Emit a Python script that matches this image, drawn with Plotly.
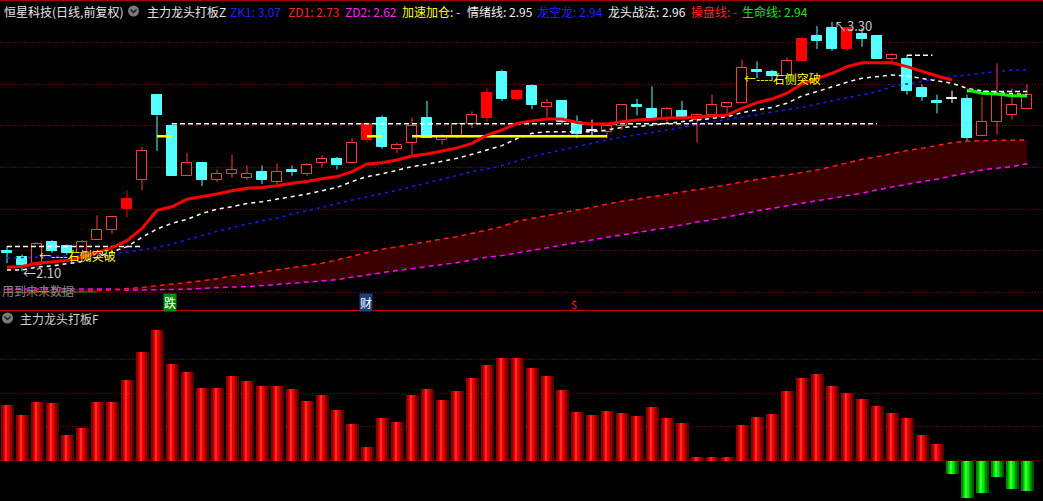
import plotly.graph_objects as go

W, H = 1043, 501

# ---------------- data ----------------
opens = [2.20, 2.17, 2.13, 2.24, 2.22, 2.19, 2.25, 2.30, 2.40, 2.54,
         2.95, 2.80, 2.56, 2.62, 2.54, 2.57, 2.55, 2.58, 2.53, 2.59,
         2.57, 2.62, 2.64, 2.62, 2.73, 2.84, 2.69, 2.72, 2.84, 2.73,
         2.75, 2.81, 2.84, 3.06, 2.93, 2.99, 2.89, 2.92, 2.82, 2.78,
         2.77, 2.80, 2.90, 2.88, 2.84, 2.87, 2.83, 2.85, 2.89, 2.91,
         3.07, 3.06, 3.04, 3.11, 3.23, 3.27, 3.17, 3.24, 3.23, 3.12,
         3.12, 2.98, 2.92, 2.93, 2.93, 2.75, 2.82, 2.85, 2.88]
closes = [2.19, 2.13, 2.23, 2.20, 2.19, 2.24, 2.30, 2.36, 2.45, 2.68,
          2.85, 2.56, 2.62, 2.54, 2.57, 2.59, 2.57, 2.54, 2.58, 2.58,
          2.61, 2.64, 2.61, 2.72, 2.81, 2.70, 2.71, 2.80, 2.74, 2.75,
          2.81, 2.85, 2.96, 2.93, 2.97, 2.90, 2.91, 2.82, 2.76, 2.78,
          2.80, 2.90, 2.89, 2.83, 2.88, 2.84, 2.85, 2.90, 2.91, 3.08,
          3.06, 3.04, 3.11, 3.22, 3.21, 3.17, 3.27, 3.22, 3.12, 3.14,
          2.97, 2.94, 2.91, 2.93, 2.74, 2.82, 2.95, 2.90, 2.95]
highs = [2.22, 2.18, 2.24, 2.25, 2.23, 2.25, 2.37, 2.36, 2.49, 2.70,
         2.95, 2.81, 2.67, 2.62, 2.59, 2.66, 2.61, 2.61, 2.62, 2.61,
         2.62, 2.66, 2.65, 2.74, 2.81, 2.85, 2.72, 2.84, 2.92, 2.76,
         2.81, 2.87, 2.98, 3.07, 2.97, 3.00, 2.93, 2.92, 2.85, 2.83,
         2.80, 2.90, 2.93, 2.99, 2.89, 2.92, 2.86, 2.95, 2.91, 3.12,
         3.11, 3.07, 3.13, 3.23, 3.28, 3.30, 3.27, 3.27, 3.23, 3.15,
         3.14, 3.00, 2.95, 2.97, 2.95, 2.94, 3.10, 2.98, 3.00]
lows = [2.14, 2.10, 2.12, 2.19, 2.18, 2.18, 2.25, 2.28, 2.36, 2.49,
        2.68, 2.56, 2.56, 2.51, 2.53, 2.55, 2.54, 2.52, 2.52, 2.56,
        2.56, 2.60, 2.59, 2.62, 2.72, 2.69, 2.67, 2.66, 2.74, 2.71,
        2.74, 2.79, 2.82, 2.92, 2.92, 2.88, 2.84, 2.81, 2.74, 2.75,
        2.74, 2.78, 2.85, 2.83, 2.81, 2.84, 2.72, 2.85, 2.86, 2.91,
        3.03, 3.02, 3.03, 3.11, 3.17, 3.16, 3.16, 3.18, 3.12, 3.10,
        2.95, 2.92, 2.86, 2.91, 2.73, 2.75, 2.76, 2.83, 2.88]
signal_days = [8, 24, 32, 34, 53, 56]

caopan = [2.120, 2.123, 2.139, 2.144, 2.152, 2.168, 2.192, 2.214, 2.248, 2.307,
          2.394, 2.411, 2.447, 2.459, 2.472, 2.488, 2.500, 2.504, 2.512, 2.524,
          2.532, 2.546, 2.556, 2.580, 2.617, 2.623, 2.636, 2.655, 2.665, 2.679,
          2.694, 2.716, 2.756, 2.780, 2.812, 2.824, 2.833, 2.833, 2.816, 2.809,
          2.809, 2.820, 2.828, 2.832, 2.838, 2.838, 2.841, 2.848, 2.852, 2.884,
          2.912, 2.929, 2.957, 3.002, 3.029, 3.053, 3.085, 3.104, 3.104, 3.104,
          3.085, 3.061, 3.040, 3.021, None, None, None, None, None]
shengming = [None] * 64 + [2.973, 2.957, 2.953, 2.945, 2.944]
qingxu = [2.107, 2.107, 2.121, 2.126, 2.137, 2.147, 2.168, 2.192, 2.219, 2.264,
          2.304, 2.331, 2.350, 2.379, 2.399, 2.411, 2.427, 2.435, 2.447, 2.459,
          2.472, 2.488, 2.504, 2.532, 2.556, 2.569, 2.585, 2.604, 2.615, 2.628,
          2.644, 2.663, 2.684, 2.705, 2.739, 2.764, 2.772, 2.772, 2.772, 2.772,
          2.780, 2.793, 2.796, 2.804, 2.809, 2.820, 2.825, 2.833, 2.844, 2.864,
          2.876, 2.889, 2.909, 2.944, 2.965, 2.989, 3.010, 3.029, 3.037, 3.045,
          3.040, 3.029, 3.016, 3.005, 2.981, 2.968, 2.960, 2.955, 2.950]
zk1 = [2.164, 2.166, 2.168, 2.171, 2.174, 2.179, 2.182, 2.187, 2.192, 2.203,
       2.214, 2.232, 2.251, 2.272, 2.293, 2.310, 2.326, 2.344, 2.355, 2.376,
       2.391, 2.407, 2.426, 2.443, 2.458, 2.474, 2.490, 2.508, 2.524, 2.543,
       2.561, 2.580, 2.593, 2.609, 2.631, 2.652, 2.668, 2.684, 2.703, 2.716,
       2.732, 2.745, 2.756, 2.769, 2.780, 2.793, 2.804, 2.820, 2.832, 2.844,
       2.856, 2.868, 2.880, 2.889, 2.905, 2.921, 2.936, 2.949, 2.965, 2.989,
       3.002, 3.013, 3.026, 3.037, 3.045, 3.053, 3.061, 3.069, 3.070]
zd1 = [2.000, 2.000, 2.001, 2.002, 2.003, 2.004, 2.006, 2.010, 2.017, 2.022,
       2.031, 2.038, 2.046, 2.055, 2.065, 2.078, 2.086, 2.095, 2.107, 2.118,
       2.128, 2.139, 2.155, 2.174, 2.190, 2.206, 2.217, 2.230, 2.243, 2.254,
       2.267, 2.283, 2.299, 2.315, 2.341, 2.355, 2.370, 2.383, 2.395, 2.408,
       2.424, 2.437, 2.448, 2.459, 2.472, 2.482, 2.492, 2.503, 2.516, 2.530,
       2.543, 2.554, 2.564, 2.575, 2.588, 2.604, 2.623, 2.639, 2.652, 2.668,
       2.681, 2.692, 2.705, 2.719, 2.727, 2.730, 2.730, 2.731, 2.732]
zd2 = [2.015, 2.015, 2.015, 2.015, 2.015, 2.015, 2.015, 2.015, 2.009, 2.010,
       2.010, 2.012, 2.014, 2.018, 2.022, 2.025, 2.026, 2.031, 2.038, 2.043,
       2.049, 2.054, 2.060, 2.070, 2.083, 2.094, 2.105, 2.113, 2.123, 2.132,
       2.142, 2.155, 2.168, 2.176, 2.188, 2.203, 2.214, 2.227, 2.238, 2.251,
       2.264, 2.275, 2.286, 2.299, 2.310, 2.323, 2.338, 2.347, 2.363, 2.376,
       2.391, 2.403, 2.416, 2.427, 2.439, 2.451, 2.464, 2.476, 2.492, 2.504,
       2.519, 2.532, 2.543, 2.559, 2.572, 2.588, 2.596, 2.604, 2.618]

# horizontal levels: (start day, end day, price)
white_levels = [(0, 9, 2.22), (11, 58, 2.81), (60, 61.7, 3.14), (64, 68, 2.965)]
yellow_levels = [(10, 11, 2.75), (24, 25, 2.75), (27, 40, 2.75)]
breakout_marks = [(2, 2.174), (49, 3.03)]
high_mark = (55, 3.30)
low_mark = (1, 2.10)

f_values = [16.5, 13.5, 17.4, 17.1, 7.6, 9.7, 17.4, 17.4, 23.9, 32.2,
            38.7, 28.7, 26.3, 21.5, 21.5, 25.1, 23.6, 22.1, 22.1, 21.2,
            17.7, 19.5, 15.0, 10.9, 4.1, 12.6, 11.5, 19.5, 21.2, 18.0,
            20.7, 24.5, 28.4, 30.4, 30.4, 27.4, 25.0, 20.8, 14.3, 13.4,
            14.6, 14.0, 13.1, 15.8, 12.5, 11.1, 1.0, 1.0, 1.0, 10.5,
            12.8, 13.7, 20.6, 24.4, 25.6, 22.0, 20.0, 18.2, 16.1, 14.0,
            12.5, 7.5, 4.8, -4.1, -11.2, -9.7, -4.9, -8.5, -9.1]

header_items = [("ZK1: 3.07", "#2323ff", 228), ("ZD1: 2.73", "#ff2020", 286),
                ("ZD2: 2.62", "#ff20ff", 343), ("加速加仓: -", "#ffff00", 400),
                ("情绪线: 2.95", "#f0f0f0", 465), ("龙空龙: 2.94", "#2323ff", 535),
                ("龙头战法: 2.96", "#f0f0f0", 606), ("操盘线: -", "#ff2020", 689),
                ("生命线: 2.94", "#20e020", 740)]

# ---------------- layout helpers ----------------
FONT = "Noto Sans CJK SC, Noto Sans, sans-serif"
n = len(opens)
xs = list(range(n))


def px(x):
    return x / W


def py(y):
    return 1 - y / H


MAIN_TOP, MAIN_BOT = 20, 310
P_REF, Y_REF, PX_PER = 3.0, 84.3, 207.85


def price_at(y):
    return P_REF - (y - Y_REF) / PX_PER


main_range = [price_at(MAIN_BOT), price_at(MAIN_TOP)]
SUB_TOP = 311
ZERO_Y, UNIT = 460.5, 3.37
sub_range = [-(H - ZERO_Y) / UNIT, (ZERO_Y - SUB_TOP) / UNIT]
X_RANGE = [(0 - 7) / 15, (W - 7) / 15]

fig = go.Figure()

# ---- band fill ZD1/ZD2 ----
fig.add_trace(go.Scatter(x=xs, y=zd2, mode="lines", line=dict(width=0, color="#380000"),
                         hoverinfo="skip"))
fig.add_trace(go.Scatter(x=xs, y=zd1, mode="lines", line=dict(width=0, color="#380000"),
                         fill="tonexty", fillcolor="#380000", hoverinfo="skip"))

# ---- candles ----
RED_LINE = "#ff3c3c"
CYAN = "#54ffff"
groups = {"hollow": [], "solid": [], "down": [], "flat": []}
for i in range(n):
    o, c = opens[i], closes[i]
    if i in signal_days:
        groups["solid"].append(i)
    elif c > o:
        groups["hollow"].append(i)
    elif c < o:
        groups["down"].append(i)
    else:
        groups["flat"].append(i)

style = {"hollow": ("#000000", RED_LINE), "solid": ("#ff0000", "#ff0000"),
         "down": (CYAN, CYAN), "flat": ("#ffffff", "#ffffff")}
for g, idx in groups.items():
    if not idx:
        continue
    fillc, linec = style[g]
    bases, hts = [], []
    for i in idx:
        top, bot = max(opens[i], closes[i]), min(opens[i], closes[i])
        h = top - bot
        if h < 0.005:
            bot = bot - 0.0025
            h = 0.005
        bases.append(bot)
        hts.append(h)
    fig.add_trace(go.Bar(x=idx, y=hts, base=bases, width=0.72,
                         marker=dict(color=fillc, line=dict(color=linec, width=1)),
                         hoverinfo="skip"))
    wx, wy = [], []
    for i in idx:
        top, bot = max(opens[i], closes[i]), min(opens[i], closes[i])
        wx += [i, i, None, i, i, None]
        wy += [highs[i], top, None, bot, lows[i], None]
    fig.add_trace(go.Scatter(x=wx, y=wy, mode="lines", line=dict(color=linec, width=1),
                             hoverinfo="skip"))

# ---- indicator lines ----
fig.add_trace(go.Scatter(x=xs, y=zd2, mode="lines",
                         line=dict(color="#ff00ff", width=1.5, dash="5px,4px"), hoverinfo="skip"))
fig.add_trace(go.Scatter(x=xs, y=zd1, mode="lines",
                         line=dict(color="#ff1a1a", width=1.5, dash="5px,4px"), hoverinfo="skip"))
fig.add_trace(go.Scatter(x=xs, y=zk1, mode="lines",
                         line=dict(color="#1a1aff", width=1.5, dash="3px,4px"), hoverinfo="skip"))
fig.add_trace(go.Scatter(x=xs, y=qingxu, mode="lines",
                         line=dict(color="#ffffff", width=1.5, dash="4px,4px"), hoverinfo="skip"))
for s, e, p in white_levels:
    fig.add_trace(go.Scatter(x=[s, e], y=[p, p], mode="lines",
                             line=dict(color="#ffffff", width=1.5, dash="5px,3px"), hoverinfo="skip"))
for s, e, p in yellow_levels:
    fig.add_trace(go.Scatter(x=[s, e], y=[p, p], mode="lines",
                             line=dict(color="#ffff00", width=2.5), hoverinfo="skip"))
fig.add_trace(go.Scatter(x=xs, y=caopan, mode="lines",
                         line=dict(color="#ff0000", width=3), hoverinfo="skip"))
fig.add_trace(go.Scatter(x=xs, y=shengming, mode="lines",
                         line=dict(color="#00ff00", width=3), hoverinfo="skip"))

# ---- lower pane bars (cylinder shading) ----
pos = [v if v > 0 else None for v in f_values]
neg = [v if v < 0 else None for v in f_values]
red_layers = [(0.867, 0.0, "#5a0000"), (0.70, -0.03, "#8c0000"), (0.50, -0.04, "#c40000"),
              (0.32, -0.04, "#ee0000"), (0.14, -0.04, "#ff2a2a")]
green_layers = [(0.867, 0.0, "#005400"), (0.70, -0.03, "#008800"), (0.50, -0.04, "#00c000"),
                (0.32, -0.04, "#00ee00"), (0.14, -0.04, "#40ff40")]
for vals, layers in ((pos, red_layers), (neg, green_layers)):
    for wdt, off, col in layers:
        fig.add_trace(go.Bar(x=[i + off for i in xs], y=vals, width=wdt,
                             marker=dict(color=col, line=dict(width=0)),
                             xaxis="x2", yaxis="y2", hoverinfo="skip"))

# ---------------- annotations ----------------
ann = []
hdr_y = py(11)
ann.append(dict(x=px(2), y=hdr_y, xref="paper", yref="paper", xanchor="left", yanchor="middle",
                text="恒星科技(日线,前复权)", showarrow=False, font=dict(size=12, color="#e6e6e6", family=FONT)))
ann.append(dict(x=px(145), y=hdr_y, xref="paper", yref="paper", xanchor="left", yanchor="middle",
                text="主力龙头打板Z", showarrow=False, font=dict(size=12, color="#e6e6e6", family=FONT)))
for txt, col, xp in header_items:
    ann.append(dict(x=px(xp), y=hdr_y, xref="paper", yref="paper", xanchor="left", yanchor="middle",
                    text=txt, showarrow=False, font=dict(size=12, color=col, family=FONT)))
ann.append(dict(x=px(18), y=py(318), xref="paper", yref="paper", xanchor="left", yanchor="middle",
                text="主力龙头打板F", showarrow=False, font=dict(size=12, color="#d0d0d0", family=FONT)))

for bx, bp in breakout_marks:
    ann.append(dict(x=bx, y=bp, xref="x", yref="y", xanchor="left", yanchor="middle",
                    text="←----右侧突破", showarrow=False,
                    font=dict(size=12, color="#ffff00", family=FONT)))
ann.append(dict(x=high_mark[0], y=high_mark[1], xref="x", yref="y", xanchor="left", yanchor="middle",
                text="↖3.30", showarrow=False, yshift=-4,
                font=dict(size=13, color="#c8c8c8", family=FONT)))
ann.append(dict(x=low_mark[0], y=low_mark[1], xref="x", yref="y", xanchor="left", yanchor="middle",
                text="←2.10", showarrow=False, xshift=-1, yshift=-1,
                font=dict(size=13, color="#c8c8c8", family=FONT)))
ann.append(dict(x=px(0), y=py(290), xref="paper", yref="paper", xanchor="left", yanchor="middle",
                text="用到未来数据", showarrow=False, font=dict(size=12, color="#8a8a8a", family=FONT)))
ann.append(dict(x=px(170), y=py(302), xref="paper", yref="paper", xanchor="center", yanchor="middle",
                text="跌", showarrow=False, bgcolor="#0a8a0a", borderpad=0,
                font=dict(size=12, color="#ffffff", family=FONT)))
ann.append(dict(x=px(366), y=py(302), xref="paper", yref="paper", xanchor="center", yanchor="middle",
                text="财", showarrow=False, bgcolor="#1d3f80", borderpad=0,
                font=dict(size=12, color="#ffffff", family=FONT)))
ann.append(dict(x=px(574), y=py(304), xref="paper", yref="paper", xanchor="center", yanchor="middle",
                text="$", showarrow=False, font=dict(size=11, color="#ff2020", family=FONT)))

# ---------------- shapes ----------------
shapes = []
shapes.append(dict(type="line", xref="paper", yref="paper", x0=0, x1=1, y0=py(0.5), y1=py(0.5),
                   line=dict(color="#a00000", width=1)))
shapes.append(dict(type="line", xref="paper", yref="paper", x0=0, x1=1, y0=py(310.5), y1=py(310.5),
                   line=dict(color="#d00000", width=1.2)))
for cx, cy in ((133.5, 11), (7.5, 318)):
    shapes.append(dict(type="circle", xref="paper", yref="paper",
                       x0=px(cx - 5.5), x1=px(cx + 5.5), y0=py(cy + 5.5), y1=py(cy - 5.5),
                       fillcolor="#7a7a7a", line=dict(width=0)))
    shapes.append(dict(type="path", xref="paper", yref="paper",
                       path=f"M {px(cx-3)},{py(cy-1.5)} L {px(cx)},{py(cy+1.5)} L {px(cx+3)},{py(cy-1.5)}",
                       line=dict(color="#1e1e1e", width=1.5)))
shapes.append(dict(type="rect", xref="paper", yref="paper", x0=px(7), x1=px(97),
                   y0=py(293), y1=py(289.5), fillcolor="#0a640a", line=dict(width=0), layer="below"))

grid_style = dict(showgrid=True, gridcolor="#8b0000", griddash="1px,2px", gridwidth=1,
                  zeroline=False, showticklabels=False, showline=False, ticks="")
fig.update_layout(
    width=W, height=H, margin=dict(l=0, r=0, t=0, b=0),
    paper_bgcolor="#000000", plot_bgcolor="#000000",
    showlegend=False, hovermode=False, barmode="overlay", bargap=0,
    xaxis=dict(domain=[0, 1], range=X_RANGE, showgrid=False, zeroline=False,
               showticklabels=False, anchor="y"),
    yaxis=dict(domain=[1 - MAIN_BOT / H, 1 - MAIN_TOP / H], range=main_range,
               tickvals=[2.0, 2.2, 2.4, 2.6, 2.8, 3.0, 3.2], anchor="x", **grid_style),
    xaxis2=dict(domain=[0, 1], range=X_RANGE, showgrid=False, zeroline=False,
                showticklabels=False, anchor="y2"),
    yaxis2=dict(domain=[0, 1 - SUB_TOP / H], range=sub_range,
                tickvals=[0, 10, 20, 30], anchor="x2", **grid_style),
    annotations=ann, shapes=shapes,
)

fig.write_html("out.html", config={"displayModeBar": False},
               post_script="document.body.style.margin='0';document.body.style.background='#000';")
